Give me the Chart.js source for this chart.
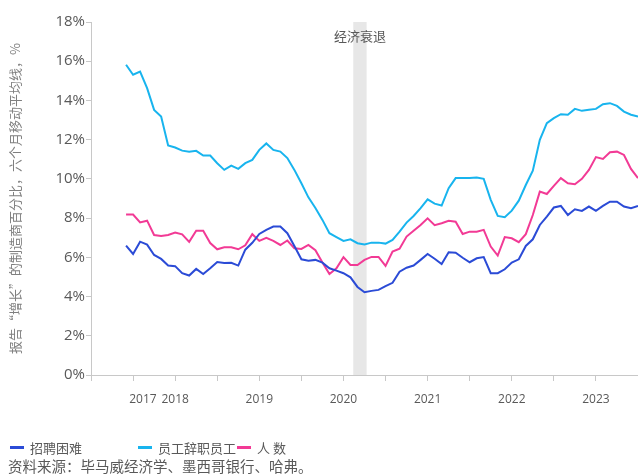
<!DOCTYPE html>
<html>
<head>
<meta charset="utf-8">
<script src="https://cdn.jsdelivr.net/npm/chart.js@4.4.1/dist/chart.umd.min.js"></script>
<style>
  html, body { margin: 0; padding: 0; background: #fff; }
  #wrap { width: 638px; height: 474px; }
</style>
</head>
<body>
<div id="wrap"><canvas id="canvas" width="638" height="474"></canvas></div>
<script>
// month index counted from Jan 2017; first observation is Jun 2017
const firstMonth = 5;
const lastMonth = 78;

const seriesNames = ['招聘困难', '员工辞职员工', '人 数'];

const hiring = [
  6.60, 6.17, 6.80, 6.65, 6.12, 5.92, 5.58,
  5.55, 5.19, 5.07, 5.41, 5.15, 5.44, 5.76, 5.71, 5.72, 5.58, 6.39, 6.74,
  7.19, 7.40, 7.57, 7.57, 7.23, 6.58, 5.90, 5.83, 5.87, 5.73, 5.44, 5.32,
  5.19, 4.98, 4.49, 4.22, 4.29, 4.34, 4.53, 4.70, 5.27, 5.47, 5.58, 5.87,
  6.17, 5.93, 5.66, 6.26, 6.24, 5.98, 5.75, 5.95, 6.01, 5.19, 5.19, 5.39,
  5.73, 5.90, 6.58, 6.92, 7.65, 8.08, 8.54, 8.62, 8.16, 8.45, 8.37, 8.59,
  8.37, 8.62, 8.84, 8.84, 8.59, 8.50, 8.62
];

const resigning = [
  15.82, 15.31, 15.47, 14.63, 13.52, 13.18, 11.70,
  11.60, 11.44, 11.39, 11.43, 11.19, 11.19, 10.80, 10.46, 10.68, 10.51, 10.80, 10.97,
  11.48, 11.81, 11.48, 11.39, 11.06, 10.46, 9.78, 9.06, 8.52, 7.91, 7.23, 7.03,
  6.84, 6.92, 6.72, 6.65, 6.75, 6.75, 6.70, 6.89, 7.31, 7.77, 8.11, 8.51,
  8.96, 8.74, 8.64, 9.53, 10.04, 10.04, 10.05, 10.07, 10.00, 8.93, 8.11, 8.05,
  8.38, 8.89, 9.69, 10.42, 11.99, 12.84, 13.10, 13.30, 13.27, 13.57, 13.47, 13.52,
  13.57, 13.81, 13.86, 13.72, 13.43, 13.27, 13.18
];

const headcount = [
  8.18, 8.18, 7.78, 7.87, 7.14, 7.09, 7.14,
  7.26, 7.17, 6.79, 7.36, 7.35, 6.73, 6.41, 6.51, 6.51, 6.41, 6.61, 7.18,
  6.84, 6.99, 6.84, 6.63, 6.86, 6.46, 6.43, 6.63, 6.36, 5.74, 5.15, 5.44,
  6.01, 5.61, 5.61, 5.87, 6.02, 6.02, 5.56, 6.29, 6.44, 7.06, 7.36, 7.65,
  7.99, 7.64, 7.74, 7.86, 7.82, 7.19, 7.31, 7.31, 7.40, 6.55, 6.09, 7.03,
  6.97, 6.77, 7.18, 8.16, 9.35, 9.23, 9.64, 10.04, 9.78, 9.73, 10.00, 10.46,
  11.11, 11.02, 11.36, 11.39, 11.22, 10.51, 10.04
];

const yearLabels = ['2018', '2019', '2020', '2021', '2022', '2023'];
const firstYearLabel = '2017';
const recession = [37.4, 39.3]; // Feb-Apr 2020 band as drawn

const colors = ['#2b4bd6', '#18b4ee', '#f23a95'];
const grey = '#595959';
const cjk = '"Noto Sans CJK SC", "Noto Sans", sans-serif';

const toPoints = arr => arr.map((v, i) => ({ x: firstMonth + i, y: v }));

const extras = {
  id: 'extras',
  beforeDatasetsDraw(chart) {
    const { ctx, chartArea, scales } = chart;
    const x0 = scales.x.getPixelForValue(recession[0]);
    const x1 = scales.x.getPixelForValue(recession[1]);
    ctx.save();
    ctx.fillStyle = '#e7e7e7';
    ctx.fillRect(x0, chartArea.top, x1 - x0, chartArea.bottom - chartArea.top);
    ctx.fillStyle = grey;
    ctx.font = '13px ' + cjk;
    ctx.textAlign = 'center';
    ctx.textBaseline = 'middle';
    ctx.fillText('经济衰退', (x0 + x1) / 2, 36);
    ctx.restore();
  },
  afterDraw(chart) {
    const { ctx } = chart;
    const legendX = [10, 138, 237];
    ctx.save();
    ctx.textBaseline = 'middle';
    ctx.textAlign = 'left';
    ctx.font = '13px ' + cjk;
    chart.data.datasets.forEach((ds, i) => {
      ctx.fillStyle = ds.borderColor;
      ctx.fillRect(legendX[i], 446, 14, 3);
      ctx.fillStyle = grey;
      ctx.fillText(ds.label, legendX[i] + 20, 448);
    });
    ctx.font = '14.5px ' + cjk;
    ctx.fillText('资料来源：毕马威经济学、墨西哥银行、哈弗。', 8, 466);
    ctx.restore();
  }
};

const ctx = document.getElementById('canvas').getContext('2d');
const myChart = new Chart(ctx, {
  type: 'line',
  data: {
    datasets: [hiring, resigning, headcount].map((arr, i) => ({
      label: seriesNames[i],
      data: toPoints(arr),
      borderColor: colors[i],
      backgroundColor: colors[i],
      borderWidth: 2,
      pointRadius: 0,
      tension: 0,
      fill: false
    }))
  },
  options: {
    responsive: false,
    animation: false,
    layout: { padding: { top: 22, right: 0, bottom: 0, left: 0 } },
    plugins: {
      legend: { display: false },
      tooltip: { enabled: false }
    },
    scales: {
      x: {
        type: 'linear',
        min: 0,
        max: lastMonth,
        afterBuildTicks: scale => {
          const t = [];
          for (let v = 0; v <= 72; v += 6) t.push({ value: v });
          t.push({ value: 7.4 });
          scale.ticks = t;
        },
        afterFit: scale => { scale.height = 99; },
        grid: {
          display: true,
          drawOnChartArea: false,
          drawTicks: true,
          tickLength: 6,
          tickColor: c => (c.tick && c.tick.value === 7.4) ? 'rgba(0,0,0,0)' : '#c8c8c8'
        },
        border: { display: true, color: '#c8c8c8', width: 1 },
        ticks: {
          autoSkip: false,
          maxRotation: 0,
          padding: 11,
          color: grey,
          font: { family: '"Open Sans", sans-serif', size: 12 },
          callback: v => {
            if (v === 7.4) return firstYearLabel;
            if (v > 0 && v % 12 === 0) return yearLabels[v / 12 - 1];
            return '';
          }
        }
      },
      y: {
        min: 0,
        max: 18,
        afterFit: scale => { scale.width = 91; },
        grid: {
          display: true,
          drawOnChartArea: false,
          drawTicks: true,
          tickLength: 5,
          color: '#c8c8c8'
        },
        border: { display: true, color: '#c8c8c8', width: 1 },
        ticks: {
          stepSize: 2,
          padding: 1,
          color: grey,
          font: { family: '"Open Sans", sans-serif', size: 15 },
          callback: v => v + '%'
        },
        title: {
          display: true,
          text: '报告“增长”的制造商百分比，六个月移动平均线，%',
          color: '#7f7f7f',
          font: { family: cjk, size: 13 },
          padding: { top: 7, bottom: 0 }
        }
      }
    }
  },
  plugins: [extras]
});
</script>
</body>
</html>
